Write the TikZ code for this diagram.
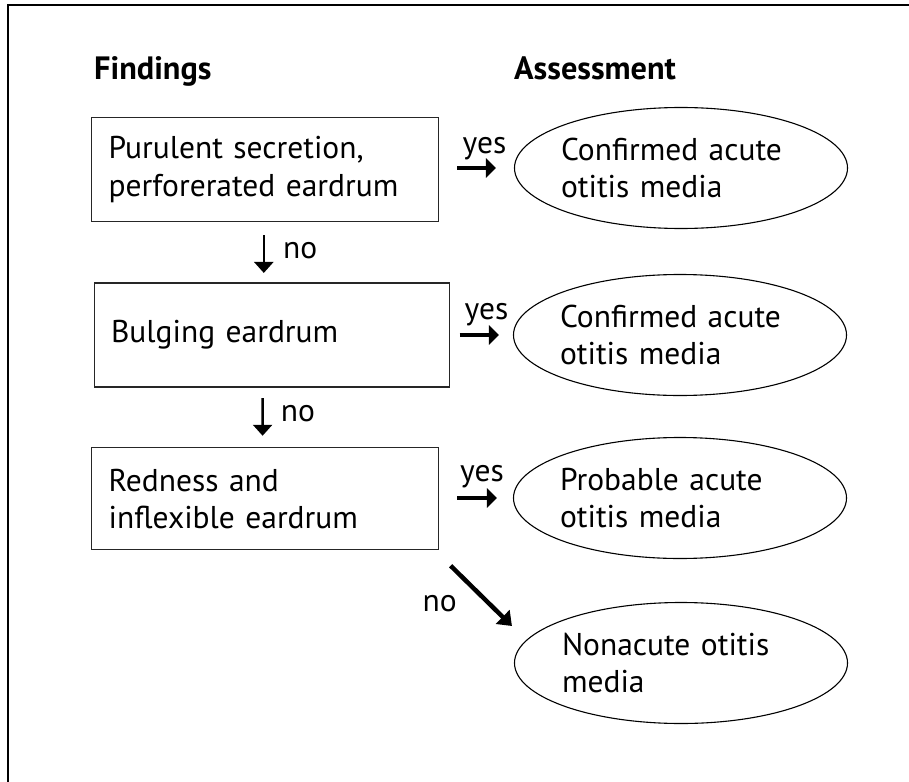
\documentclass[tikz,border=0pt]{standalone}
\usepackage{fontspec}
\setmainfont{PT Sans}
\usetikzlibrary{arrows.meta,shapes.geometric,calc}
\begin{document}
\begin{tikzpicture}[x=1bp,y=-1bp,
  txt/.style={font=\fontsize{31.5bp}{37.5bp}\selectfont},
  head/.style={font=\bfseries\fontsize{32.3bp}{36bp}\selectfont,anchor=base west,inner sep=0},
  findbox/.style={txt,draw=black!85,line width=1.1bp,rectangle,inner xsep=17bp,inner ysep=0,
    align=left,minimum height=104bp},
  ell/.style={draw=black,line width=1.1bp,ellipse,inner sep=0,minimum width=333bp,minimum height=121bp},
  etext/.style={txt,inner sep=0,text width=240bp,align=left},
  lab/.style={txt,inner sep=0,anchor=base},
  yesarrow/.style={line width=4.5bp,-{Triangle[length=10bp,width=19bp]}},
  noarrow/.style={line width=2.6bp,-{Triangle[length=11bp,width=19bp]}},
  diagarrow/.style={line width=4.5bp,-{Triangle[length=13bp,width=19bp]}}
]
\useasboundingbox (0,0) rectangle (909,782);
\coordinate (fa) at (8,782);
\coordinate (fb) at (8,5);
\coordinate (fc) at (909,5);
\draw[line width=1.6bp] (fa) -- (fb) -- (fc);

\node[head] (h1) at (94,80) {Findings};
\node[head] (h2) at (514,80) {Assessment};

\node[findbox,text width=313bp] (b1) at (265.2,169.6) {Purulent secretion,\\perforerated eardrum};
\node[findbox,text width=321bp] (b2) at (271.6,335) {Bulging eardrum};
\node[findbox,text width=313bp,minimum height=102bp] (b3) at (265.2,498.8) {Redness and\\inflexible eardrum};

\node[ell] (e1) at (681,168) {};
\node[etext] (t1) at (e1.center) {Confirmed acute\\otitis media};
\node[ell] (e2) at (680,335) {};
\node[etext] (t2) at (e2.center) {Confirmed acute\\otitis media};
\node[ell] (e3) at (680,498) {};
\node[etext] (t3) at (e3.center) {Probable acute\\otitis media};
\node[ell] (e4) at (681,663) {};
\node[etext] (t4) at ($(e4.center)+(1,0)$) {Nonacute otitis\\media};

% yes arrows
\draw[yesarrow,shorten <=18bp,shorten >=18bp] (b1.east |- e1.west) -- (e1.west);
\node[lab] (y1) at (484.5,153.5) {yes};
\draw[yesarrow,shorten <=10bp,shorten >=14bp] (b2.east) -- (b2.east -| e2.west);
\node[lab] (y2) at (486.5,319.5) {yes};
\draw[yesarrow,shorten <=18bp,shorten >=16bp] (b3.east |- e3.west) -- (e3.west);
\node[lab] (y3) at (482,481) {yes};

% no arrows
\draw[noarrow,shorten <=13bp,shorten >=9.5bp] ($(b1.south)+(-1.4,0)$) -- ($(b2.north)+(-7.8,0)$);
\node[lab,anchor=base west] (n1) at (283,258) {no};
\draw[noarrow,shorten <=10.5bp,shorten >=11.5bp] ($(b2.south)+(-9,0)$) -- ($(b3.north)+(-2.6,0)$);
\node[lab,anchor=base west] (n2) at (280.6,421) {no};
\draw[diagarrow] ($(b3.south east)+(11.4,15.4)$) -- ($(e4.west)+(-2,-37)$);
\node[lab,anchor=base west] (n3) at (422.5,611.5) {no};
\end{tikzpicture}
\end{document}
